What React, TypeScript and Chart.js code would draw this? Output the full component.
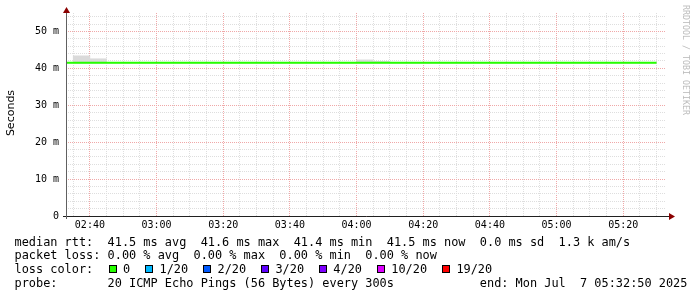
import React, { useEffect, useRef } from 'react';
import { Chart, registerables } from 'chart.js';

Chart.register(...registerables);

// ---- data ----
const startTime = '02:32:50';
const endTime = '05:32:50';

// start of each 300 s interval (last entry closes the final step)
const intervalTimes = [
  '02:30', '02:35', '02:40', '02:45', '02:50', '02:55',
  '03:00', '03:05', '03:10', '03:15', '03:20', '03:25',
  '03:30', '03:35', '03:40', '03:45', '03:50', '03:55',
  '04:00', '04:05', '04:10', '04:15', '04:20', '04:25',
  '04:30', '04:35', '04:40', '04:45', '04:50', '04:55',
  '05:00', '05:05', '05:10', '05:15', '05:20', '05:25',
  '05:30',
];

const medianRtt = [
  41.5, 41.5, 41.5, 41.5, 41.5, 41.5,
  41.5, 41.5, 41.5, 41.5, 41.5, 41.5,
  41.5, 41.5, 41.5, 41.5, 41.5, 41.5,
  41.5, 41.5, 41.5, 41.5, 41.5, 41.5,
  41.5, 41.5, 41.5, 41.5, 41.5, 41.5,
  41.5, 41.5, 41.5, 41.5, 41.5, 41.5,
  41.5,
];

// smoke (ping spread) per interval: [low, high]
const smokeHigh = [
  41.6, 43.4, 42.6, 41.6, 41.6, 41.6,
  41.6, 41.6, 41.6, 41.6, 41.6, 41.6,
  41.6, 41.6, 41.6, 41.6, 41.6, 41.6,
  42.3, 41.9, 41.6, 41.6, 41.6, 41.6,
  41.6, 41.6, 41.6, 41.6, 41.6, 41.6,
  41.6, 41.6, 41.6, 41.6, 41.6, 41.6,
];
const smokeLow = [
  41.4, 41.3, 41.4, 41.4, 41.4, 41.4,
  41.4, 41.4, 41.4, 41.4, 41.4, 41.4,
  41.4, 41.4, 41.4, 41.4, 41.4, 41.4,
  41.4, 41.4, 41.4, 41.4, 41.4, 41.4,
  41.4, 41.4, 41.4, 41.4, 41.4, 41.4,
  41.4, 41.4, 41.4, 41.4, 41.4, 41.4,
];

const xTickLabels = ['02:40', '03:00', '03:20', '03:40', '04:00', '04:20', '04:40', '05:00', '05:20'];
const yTickValues = [0, 10, 20, 30, 40, 50];
const yTickLabels = ['0', '10 m', '20 m', '30 m', '40 m', '50 m'];

const medianStats = ['41.5 ms avg', '41.6 ms max', '41.4 ms min', '41.5 ms now', '0.0 ms sd', '1.3 k am/s'];
const lossStats = ['0.00 % avg', '0.00 % max', '0.00 % min', '0.00 % now'];
const lossLabels = ['0', '1/20', '2/20', '3/20', '4/20', '10/20', '19/20'];
const lossColors = ['#26ff00', '#00b8ff', '#0059ff', '#5e00ff', '#7e00ff', '#dd00ff', '#ff0000'];
const probeText = '20 ICMP Echo Pings (56 Bytes) every 300s';
const endText = 'end: Mon Jul  7 05:32:50 2025';
const yAxisTitle = 'Seconds';
const watermark = 'RRDTOOL / TOBI OETIKER';

// ---- helpers ----
const toMin = (s: string) => {
  const p = s.split(':').map(Number);
  return p[0] * 60 + p[1] + (p[2] || 0) / 60;
};
const fmt = (m: number) => {
  const h = Math.floor(m / 60);
  const mm = Math.round(m - h * 60);
  return String(h).padStart(2, '0') + ':' + String(mm).padStart(2, '0');
};

const MAJOR = 'rgb(240, 168, 168)';
const MINOR = 'rgb(222, 222, 222)';

const axesPlugin = {
  id: 'rrdAxes',
  afterDraw(chart: any) {
    const { ctx, chartArea: a } = chart;
    ctx.save();
    ctx.strokeStyle = '#202020';
    ctx.lineWidth = 1;
    ctx.beginPath();
    ctx.moveTo(a.left - 3, a.bottom + 0.5);
    ctx.lineTo(a.right + 4, a.bottom + 0.5);
    ctx.stroke();
    ctx.strokeStyle = '#606060';
    ctx.beginPath();
    ctx.moveTo(a.left + 0.5, a.bottom + 3);
    ctx.lineTo(a.left + 0.5, a.top - 3);
    ctx.stroke();
    ctx.fillStyle = '#8b0000';
    ctx.beginPath();
    ctx.moveTo(a.left + 0.5 - 3.5, a.top);
    ctx.lineTo(a.left + 0.5 + 3.5, a.top);
    ctx.lineTo(a.left + 0.5, a.top - 6);
    ctx.closePath();
    ctx.fill();
    ctx.beginPath();
    ctx.moveTo(a.right + 3, a.bottom + 0.5 - 3.5);
    ctx.lineTo(a.right + 3, a.bottom + 0.5 + 3.5);
    ctx.lineTo(a.right + 9, a.bottom + 0.5);
    ctx.closePath();
    ctx.fill();
    ctx.restore();
  },
};

const mono = "'DejaVu Sans Mono', monospace";

export default function App() {
  const ref = useRef<HTMLCanvasElement | null>(null);

  useEffect(() => {
    if (!ref.current) return;
    const xMin = toMin(startTime);
    const xMax = toMin(endTime);
    const xs = intervalTimes.map(toMin);
    const gridX: number[] = [];
    for (let m = Math.ceil(xMin / 5) * 5; m <= xMax; m += 5) gridX.push(m);
    const gridY: number[] = [];
    for (let v = 0; v < 55; v += 2) gridY.push(v);
    const xLabelSet = new Set(xTickLabels);

    const chart = new Chart(ref.current, {
      type: 'line',
      data: {
        datasets: [
          {
            type: 'line',
            label: 'median rtt',
            data: xs.map((x, i) => ({ x, y: medianRtt[i] })),
            borderColor: '#26ff00',
            borderWidth: 2,
            stepped: 'after',
            pointRadius: 0,
            fill: false,
            order: 0,
          },
          {
            type: 'bar',
            label: 'smoke',
            data: smokeHigh.map((h, i) => ({ x: (xs[i] + xs[i + 1]) / 2, y: [smokeLow[i], h] })),
            backgroundColor: '#dadada',
            borderWidth: 0,
            barPercentage: 1,
            categoryPercentage: 1,
            grouped: false,
            order: 1,
          },
        ],
      },
      options: {
        animation: false,
        responsive: false,
        devicePixelRatio: 1,
        layout: { padding: { left: 0, top: 13, right: 31, bottom: 51 } },
        plugins: { legend: { display: false }, tooltip: { enabled: false }, title: { display: false } },
        scales: {
          x: {
            type: 'linear',
            min: xMin,
            max: xMax,
            offset: false,
            afterBuildTicks: (s: any) => {
              s.ticks = gridX.map((v) => ({ value: v }));
            },
            afterFit: (s: any) => {
              s.height = 30;
            },
            grid: {
              offset: false,
              drawTicks: false,
              lineWidth: 1,
              color: (c: any) => (Math.round(c.tick.value) % 20 === 0 ? MAJOR : MINOR),
            },
            border: { display: false, dash: [1, 1] },
            ticks: {
              autoSkip: false,
              maxRotation: 0,
              minRotation: 0,
              padding: 3,
              color: '#000',
              font: { family: 'DejaVu Sans Mono', size: 10 },
              callback: (v: any) => {
                const s = fmt(Number(v));
                return xLabelSet.has(s) ? s : '';
              },
            },
          },
          y: {
            type: 'linear',
            min: 0,
            max: 55,
            afterBuildTicks: (s: any) => {
              s.ticks = gridY.map((v) => ({ value: v }));
            },
            afterFit: (s: any) => {
              s.width = 66;
            },
            grid: {
              drawTicks: false,
              lineWidth: 1,
              color: (c: any) => (c.tick.value % 10 === 0 ? MAJOR : MINOR),
            },
            border: { display: false, dash: [1, 1] },
            ticks: {
              autoSkip: false,
              padding: 7,
              color: '#000',
              font: { family: 'DejaVu Sans Mono', size: 10 },
              callback: (v: any) => {
                const i = yTickValues.indexOf(Number(v));
                return i >= 0 ? yTickLabels[i] : '';
              },
            },
          },
        },
      },
      plugins: [axesPlugin],
    } as any);
    return () => chart.destroy();
  }, []);

  const lineStyle = (top: number): React.CSSProperties => ({
    position: 'absolute',
    left: 14.5,
    top,
    fontFamily: mono,
    fontSize: 11.9,
    lineHeight: '14px',
    whiteSpace: 'pre',
    color: '#000',
  });

  const line1 = 'median rtt:  ' + medianStats.join('  ');
  const line2 = 'packet loss: ' + lossStats.join('  ');
  const line4 = 'probe:       ' + probeText + ' '.repeat(12) + endText;

  return (
    <div
      style={{
        position: 'fixed',
        left: 0,
        top: 0,
        width: 697,
        height: 297,
        background: '#fff',
        overflow: 'hidden',
      }}
    >
      <canvas ref={ref} width={697} height={297} style={{ position: 'absolute', left: 0, top: 0, width: 697, height: 297 }} />
      <div
        style={{
          position: 'absolute',
          left: -19,
          top: 106,
          width: 60,
          height: 14,
          textAlign: 'center',
          transform: 'rotate(-90deg)',
          fontFamily: "'DejaVu Sans', sans-serif",
          fontSize: 11,
          whiteSpace: 'pre',
          color: '#000',
          lineHeight: '14px',
        }}
      >
        {yAxisTitle}
      </div>
      <div
        style={{
          position: 'absolute',
          left: 626,
          top: 55,
          width: 120,
          height: 10,
          textAlign: 'center',
          transform: 'rotate(90deg)',
          fontFamily: mono,
          fontSize: 8.3,
          whiteSpace: 'pre',
          color: '#bcbcbc',
          lineHeight: '10px',
        }}
      >
        {watermark}
      </div>
      <div style={lineStyle(234.7)}>{line1}</div>
      <div style={lineStyle(248.4)}>{line2}</div>
      <div style={{ ...lineStyle(262.1), display: 'flex', alignItems: 'center' }}>
        <span>{'loss color:  '}</span>
        {lossLabels.map((lab, i) => (
          <span key={lab} style={{ display: 'flex', alignItems: 'center' }}>
            <span
              style={{
                display: 'inline-block',
                width: 8,
                height: 8,
                boxSizing: 'border-box',
                border: '1px solid #000',
                background: lossColors[i],
                marginLeft: i === 0 ? 1.2 : 0,
                marginRight: 6.3,
              }}
            />
            <span style={{ marginRight: 15 }}>{lab}</span>
          </span>
        ))}
      </div>
      <div style={lineStyle(275.8)}>{line4}</div>
    </div>
  );
}
